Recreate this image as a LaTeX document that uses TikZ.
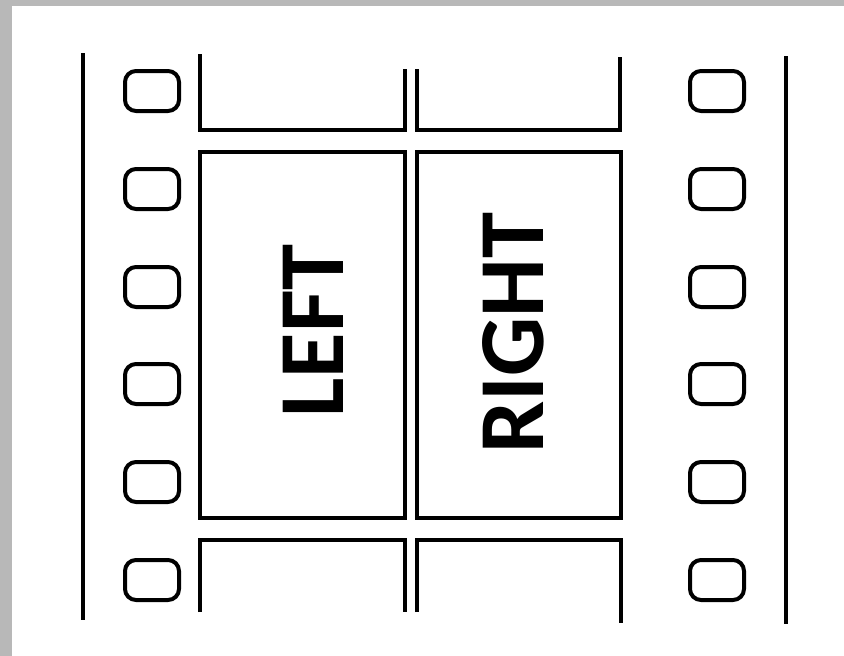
\documentclass[tikz,border=0pt]{standalone}
\usepackage{fontspec}
\setsansfont{Carlito}
\begin{document}
\begin{tikzpicture}[x=1pt,y=-1pt,font=\sffamily,
    filmline/.style={line width=4pt},
    hole/.style={draw,line width=4pt,rounded corners=11pt,minimum width=54pt,minimum height=40pt,inner sep=0pt},
    frametext/.style={font=\fontsize{93}{93}\selectfont\sffamily\bfseries,rotate=90}]

        % Sfondo e cornice grigia
        \useasboundingbox (0,0) rectangle (844,656);
        \fill[black!28] (0,0) rectangle (844,656);
        \fill[white] (12,6) rectangle (844,656);

        % Bordi esterni della pellicola
        \draw[filmline] (83,53) -- (83,620);
        \draw[filmline] (786,56) -- (786,624);

        % Perforazioni
        \foreach \i/\y in {1/91,2/189,3/287,4/384,5/482,6/580} {
            \node[hole] (hl\i) at (152,\y) {};
            \node[hole] (hr\i) at (717,\y) {};
        }

        % Fotogrammi in alto
        \draw[filmline] (200,54) -- (200,130) -- (405,130) -- (405,69);
        \draw[filmline] (417,69) -- (417,130) -- (620,130) -- (620,57);

        % Fotogrammi centrali
        \draw[filmline] (200,152) rectangle (405,518);
        \draw[filmline] (417,152) rectangle (621,518);

        % Fotogrammi in basso
        \draw[filmline] (200,612) -- (200,540) -- (405,540) -- (405,612);
        \draw[filmline] (417,612) -- (417,540) -- (621,540) -- (621,623);

        % Etichette
        \node[frametext] (left) at (313,331) {LEFT};
        \node[frametext] (right) at (513,333) {RIGHT};

    \end{tikzpicture}
\end{document}
